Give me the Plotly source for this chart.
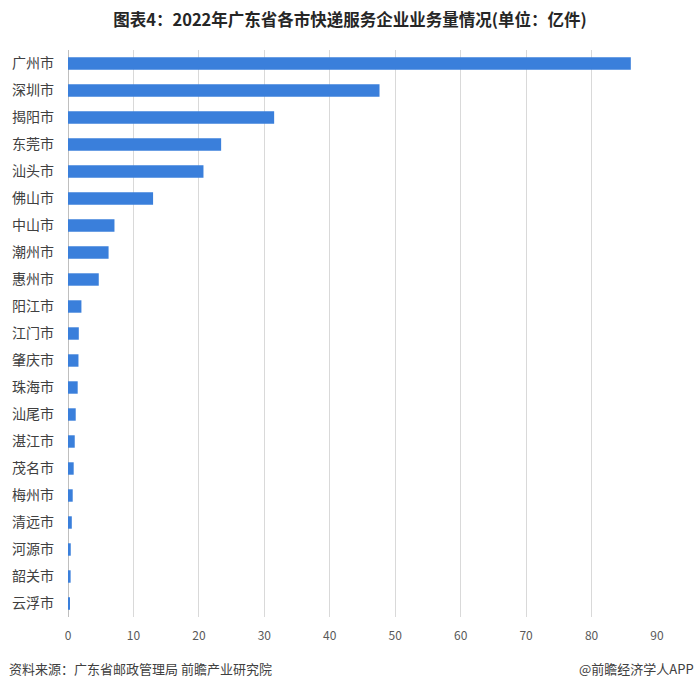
import plotly.graph_objects as go

cities = ["广州市", "深圳市", "揭阳市", "东莞市", "汕头市", "佛山市", "中山市", "潮州市", "惠州市",
          "阳江市", "江门市", "肇庆市", "珠海市", "汕尾市", "湛江市", "茂名市", "梅州市", "清远市",
          "河源市", "韶关市", "云浮市"]
volumes = [86.0, 47.6, 31.5, 23.4, 20.7, 13.0, 7.1, 6.2, 4.7,
           2.05, 1.65, 1.6, 1.48, 1.18, 1.03, 0.87, 0.72, 0.58,
           0.42, 0.4, 0.22]
x_ticks = [0, 10, 20, 30, 40, 50, 60, 70, 80, 90]

title_text = "图表4：2022年广东省各市快递服务企业业务量情况(单位：亿件)"
source_text = "资料来源：广东省邮政管理局 前瞻产业研究院"
brand_text = "@前瞻经济学人APP"

font_family = "Noto Sans CJK SC"

fig = go.Figure(go.Bar(
    x=volumes,
    y=cities,
    orientation="h",
    marker=dict(color="#3A7FDB", line=dict(width=0)),
    width=0.46,
))

fig.update_layout(
    width=700, height=690,
    margin=dict(l=68, r=43, t=50, b=73),
    paper_bgcolor="white", plot_bgcolor="white",
    showlegend=False,
    font=dict(family=font_family, color="#404040"),
    title=dict(text="<b>" + title_text + "</b>", x=0.5, xanchor="center", y=0.971, yanchor="middle",
               font=dict(size=16.5, color="#262626", family=font_family)),
)
fig.update_xaxes(
    range=[0, 90], tickvals=x_ticks, ticktext=[str(v) for v in x_ticks],
    showgrid=True, gridcolor="#D9D9D9", gridwidth=1,
    zeroline=True, zerolinecolor="#BFBFBF", zerolinewidth=1,
    showline=False, ticks="", ticklabelstandoff=10,
    tickfont=dict(size=12, color="#595959", family=font_family),
    fixedrange=True,
)
fig.update_yaxes(
    categoryorder="array", categoryarray=cities, autorange="reversed",
    showgrid=False, showline=False, ticks="", ticklabelstandoff=13,
    tickfont=dict(size=14, color="#404040", family=font_family),
    fixedrange=True,
)
fig.add_annotation(text=source_text, xref="paper", yref="paper", x=-61/589, y=-52/568,
                   xanchor="left", yanchor="middle", showarrow=False,
                   font=dict(size=13, color="#404040", family=font_family))
fig.add_annotation(text=brand_text, xref="paper", yref="paper", x=(696-68)/589, y=-52/568,
                   xanchor="right", yanchor="middle", showarrow=False,
                   font=dict(size=13, color="#404040", family=font_family))

fig.write_html("out.html")
